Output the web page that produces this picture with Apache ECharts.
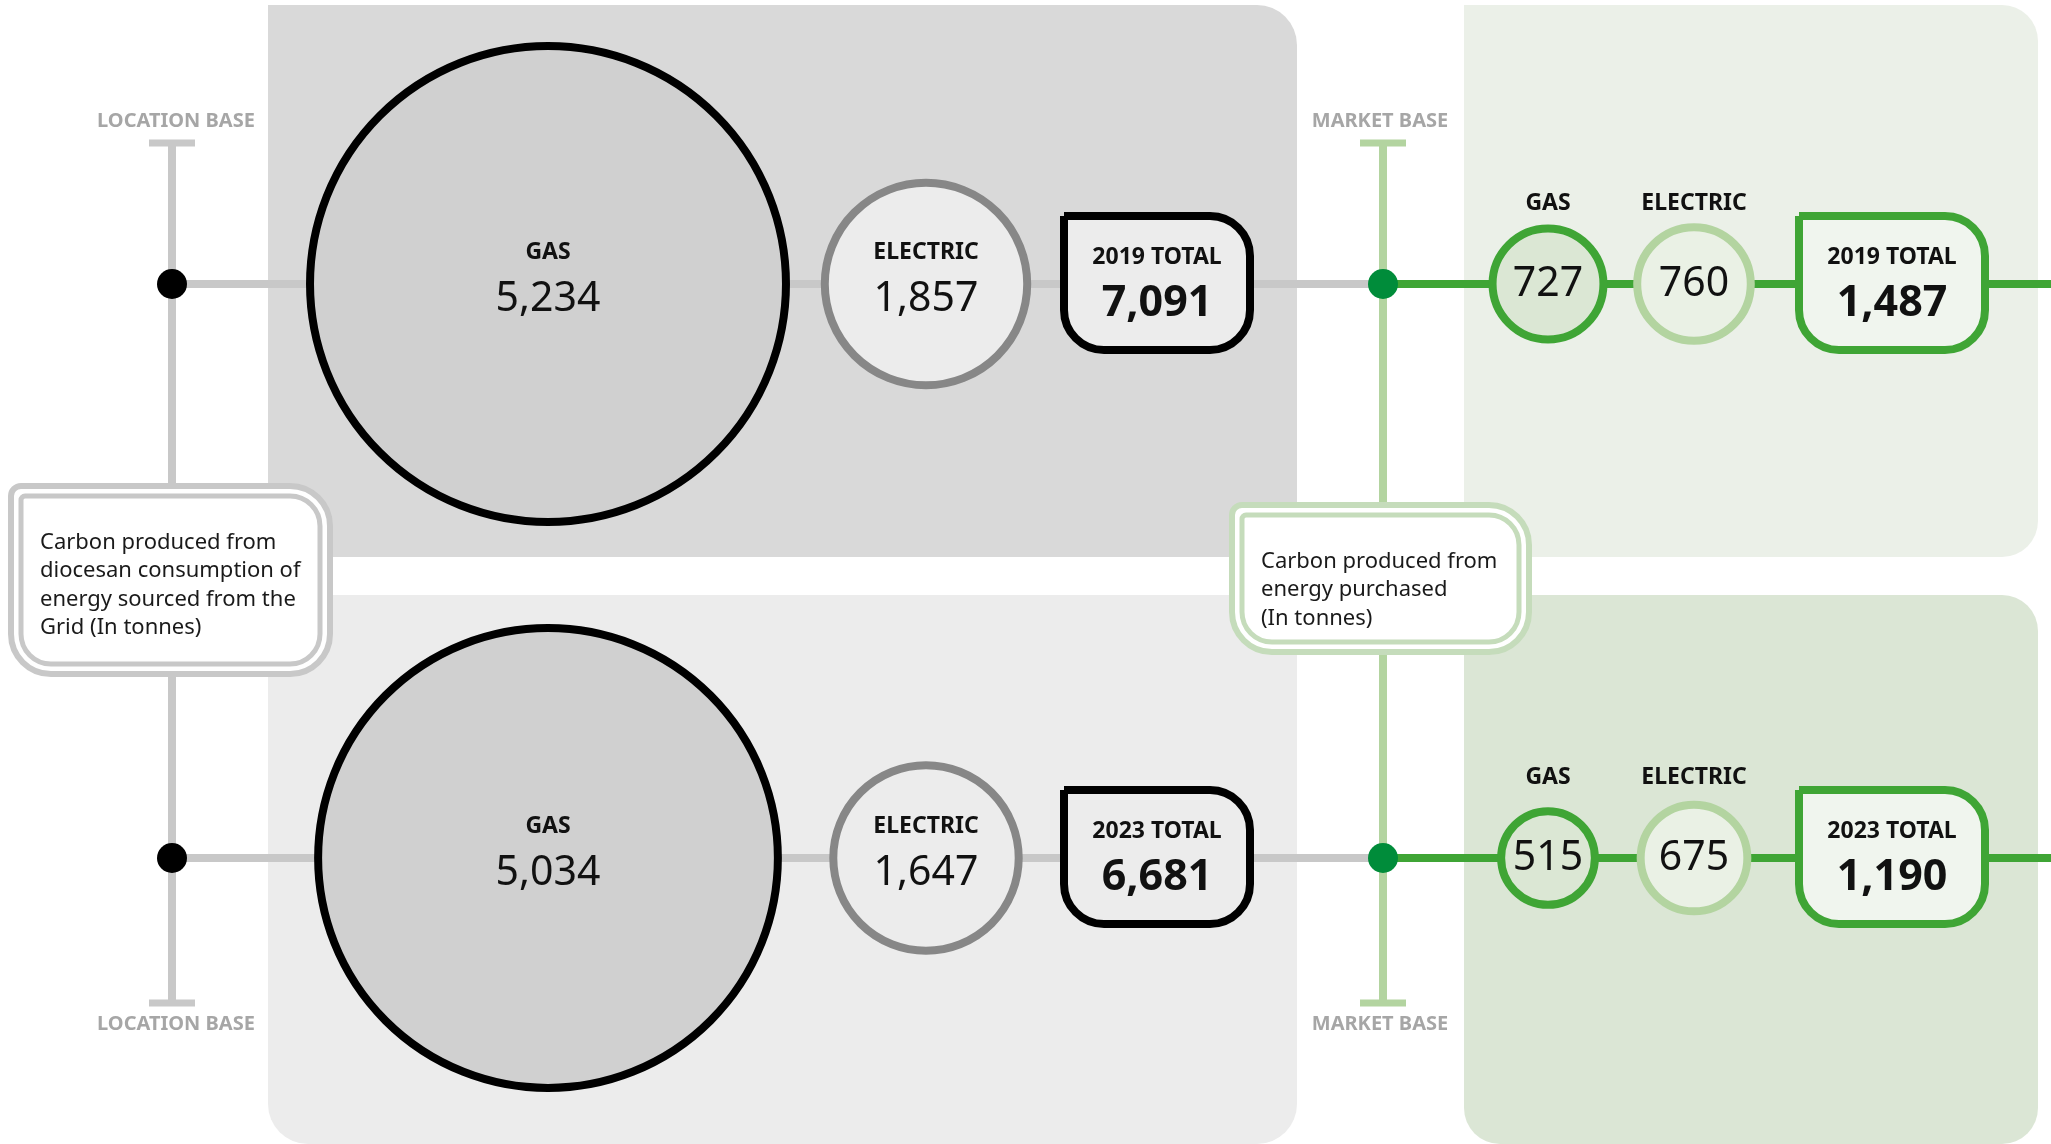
<!DOCTYPE html>
<html>
<head>
<meta charset="utf-8">
<title>Carbon produced - location base vs market base</title>
<script src="https://cdn.jsdelivr.net/npm/echarts@6/dist/echarts.min.js"></script>
<style>
  html, body { margin: 0; padding: 0; background: #fff; }
  #chart { width: 2051px; height: 1144px; }
</style>
</head>
<body>
<div id="chart"></div>
<script>
// values (tonnes of carbon)
const years = ['2019', '2023'];
const locationGas = [5234, 5034];
const locationElectric = [1857, 1647];
const marketGas = [727, 515];
const marketElectric = [760, 675];
const baseLabels = ['LOCATION BASE', 'MARKET BASE'];
const calloutText = [
  'Carbon produced from\ndiocesan consumption of\nenergy sourced from the\nGrid (In tonnes)',
  'Carbon produced from\nenergy purchased\n(In tonnes)'
];

const locationTotal = years.map((y, i) => locationGas[i] + locationElectric[i]);
const marketTotal = years.map((y, i) => marketGas[i] + marketElectric[i]);

// layout: x of each column on the hidden pixel axis
const col = {
  locBase: 172, locGas: 548, locElec: 926, locTotal: 1157,
  mktBase: 1383, mktGas: 1548, mktElec: 1694, mktTotal: 1892
};

const FONT = '"Noto Sans", "Open Sans", sans-serif';
const fmt = v => Math.round(v).toLocaleString('en-US');
// circle radius grows linearly with the value
const radius = v => 26 + 0.0405 * v;

function txt(x, y, s, weight, size, color) {
  return {
    type: 'text',
    style: {
      x: x, y: y, text: s, fill: color || '#111',
      fontFamily: FONT, fontWeight: weight, fontSize: size,
      align: 'center', verticalAlign: 'middle'
    }
  };
}

// circle node, name either inside (location) or above (market)
function circleItem(opt) {
  return function (params, api) {
    const p = api.coord([api.value(0), api.value(1)]);
    const v = api.value(2);
    const kids = [{
      type: 'circle',
      shape: { cx: p[0], cy: p[1], r: radius(v) },
      style: { fill: opt.fill, stroke: opt.stroke, lineWidth: 8 }
    }];
    if (opt.inside) {
      kids.push(txt(p[0], p[1] - 32, opt.name, 'bold', 23));
      kids.push(txt(p[0], p[1] + 15, fmt(v), 'normal', 41));
    } else {
      kids.push(txt(p[0], p[1] - 81, opt.name, 'bold', 23));
      kids.push(txt(p[0], p[1], fmt(v), 'normal', 41));
    }
    return { type: 'group', children: kids };
  };
}

// total box
function totalItem(opt) {
  return function (params, api) {
    const p = api.coord([api.value(0), api.value(1)]);
    const yr = years[params.dataIndex];
    return {
      type: 'group',
      children: [
        {
          type: 'rect',
          shape: { x: p[0] - 93, y: p[1] - 68, width: 186, height: 134, r: [0, 40, 40, 40] },
          style: { fill: opt.fill, stroke: opt.stroke, lineWidth: 8 }
        },
        txt(p[0], p[1] - 27, yr + ' TOTAL', 'bold', 23),
        txt(p[0], p[1] + 20, fmt(api.value(2)), 'bold', 43)
      ]
    };
  };
}

function nodeSeries(name, x, values, render) {
  return {
    type: 'custom',
    name: name,
    z: 5,
    renderItem: render,
    encode: { x: 0, y: 1 },
    data: years.map((y, i) => [x, y, values[i]])
  };
}

function connector(x1, x2, y, color) {
  return {
    type: 'line',
    z: 2,
    clip: false,
    symbol: 'none',
    silent: true,
    lineStyle: { color: color, width: 8 },
    data: [[x1, y], [x2, y]]
  };
}

// double outlined callout box
function callout(x, y, w, h, color, text) {
  return {
    type: 'group',
    z: 3,
    children: [
      { type: 'rect', z: 3, shape: { x: x, y: y, width: w, height: h, r: [10, 40, 40, 40] },
        style: { fill: '#fff', stroke: color, lineWidth: 6 } },
      { type: 'rect', z: 3, shape: { x: x + 10, y: y + 10, width: w - 20, height: h - 20, r: [4, 30, 30, 30] },
        style: { fill: '#fff', stroke: color, lineWidth: 5 } },
      { type: 'text', z: 4, style: {
          x: x + 29, y: y + 42, text: text, fill: '#1a1a1a',
          fontFamily: FONT, fontSize: 22, lineHeight: 28.5,
          align: 'left', verticalAlign: 'top'
        } }
    ]
  };
}

function baseLine(x, color, label, labelShift) {
  const els = [
    { type: 'line', z: 1, shape: { x1: x, y1: 143, x2: x, y2: 1003 }, style: { stroke: color, lineWidth: 8 } },
    { type: 'line', z: 1, shape: { x1: x - 23, y1: 143, x2: x + 23, y2: 143 }, style: { stroke: color, lineWidth: 7 } },
    { type: 'line', z: 1, shape: { x1: x - 23, y1: 1003, x2: x + 23, y2: 1003 }, style: { stroke: color, lineWidth: 7 } }
  ];
  [121, 1024].forEach(ty => {
    els.push({ type: 'text', z: 1, style: {
      x: x + labelShift, y: ty, text: label, fill: '#a6a6a6', fontFamily: FONT,
      fontWeight: 'bold', fontSize: 20, align: 'center', verticalAlign: 'middle'
    } });
  });
  return els;
}

const chart = echarts.init(document.getElementById('chart'));

chart.setOption({
  animation: false,
  backgroundColor: '#fff',
  grid: { left: 0, right: 0, top: 284, bottom: 286 },
  xAxis: { type: 'value', min: 0, max: 2051, show: false },
  yAxis: { type: 'category', data: years, inverse: true, boundaryGap: false, show: false },
  graphic: [
    // panels
    { type: 'rect', z: 0, shape: { x: 268, y: 5, width: 1029, height: 552, r: [0, 40, 0, 0] }, style: { fill: '#d9d9d9' } },
    { type: 'rect', z: 0, shape: { x: 268, y: 595, width: 1029, height: 549, r: [0, 0, 40, 40] }, style: { fill: '#ececec' } },
    { type: 'rect', z: 0, shape: { x: 1464, y: 5, width: 574, height: 552, r: [0, 36, 36, 0] }, style: { fill: '#ebf0e8' } },
    { type: 'rect', z: 0, shape: { x: 1464, y: 595, width: 574, height: 549, r: [0, 36, 36, 36] }, style: { fill: '#dbe6d5' } }
  ]
    .concat(baseLine(col.locBase, '#c8c8c8', baseLabels[0], 4))
    .concat(baseLine(col.mktBase, '#b3d4a0', baseLabels[1], -3))
    .concat([
      callout(11, 486, 319, 188, '#c8c8c8', calloutText[0]),
      callout(1232, 505, 297, 147, '#c5dcbb', calloutText[1])
    ]),
  series: [].concat(
    years.map(y => connector(col.locBase, col.mktBase, y, '#c8c8c8')),
    years.map(y => connector(col.mktBase, 2051, y, '#3fa535')),
    [
      nodeSeries('Location gas', col.locGas, locationGas,
        circleItem({ name: 'GAS', inside: true, fill: '#d0d0d0', stroke: '#000' })),
      nodeSeries('Location electric', col.locElec, locationElectric,
        circleItem({ name: 'ELECTRIC', inside: true, fill: '#ececec', stroke: '#878787' })),
      nodeSeries('Location total', col.locTotal, locationTotal,
        totalItem({ fill: '#ececec', stroke: '#000' })),
      nodeSeries('Market gas', col.mktGas, marketGas,
        circleItem({ name: 'GAS', inside: false, fill: '#dbe7d4', stroke: '#3fa535' })),
      nodeSeries('Market electric', col.mktElec, marketElectric,
        circleItem({ name: 'ELECTRIC', inside: false, fill: '#eaf1e5', stroke: '#b3d4a0' })),
      nodeSeries('Market total', col.mktTotal, marketTotal,
        totalItem({ fill: '#f0f5ee', stroke: '#3fa535' })),
      {
        type: 'scatter', name: 'Location base', z: 6, clip: false, symbolSize: 30,
        itemStyle: { color: '#000', opacity: 1 },
        data: years.map(y => [col.locBase, y])
      },
      {
        type: 'scatter', name: 'Market base', z: 6, clip: false, symbolSize: 30,
        itemStyle: { color: '#008c3a', opacity: 1 },
        data: years.map(y => [col.mktBase, y])
      }
    ]
  )
});
</script>
</body>
</html>
